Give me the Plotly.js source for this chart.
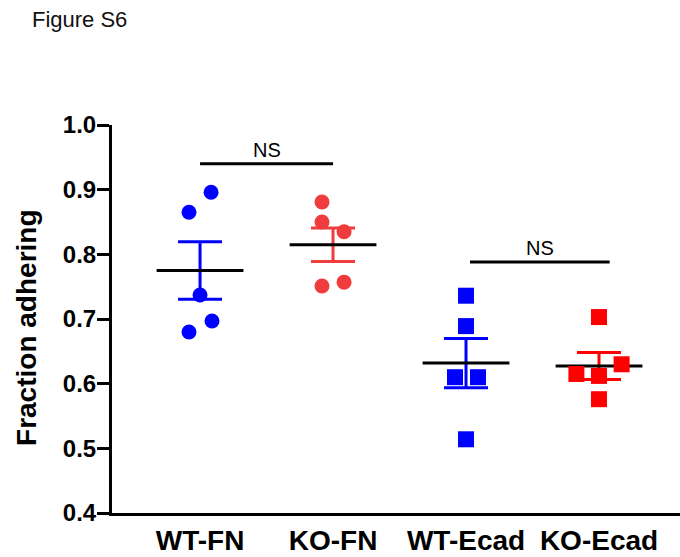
<!DOCTYPE html>
<html>
<head>
<meta charset="utf-8">
<script src="https://cdn.plot.ly/plotly-3.0.1.min.js"></script>
<style>html,body{margin:0;padding:0;background:#fff;}#chart{width:680px;height:557px;}</style>
</head>
<body>
<div id="chart"></div>
<script>
// ---- data ----
var categories = ["WT-FN", "KO-FN", "WT-Ecad", "KO-Ecad"];
var wtFN = [0.896, 0.865, 0.737, 0.697, 0.680];
var koFN = [0.881, 0.850, 0.835, 0.751, 0.757];
var wtEcad = [0.736, 0.689, 0.610, 0.610, 0.514];
var koEcad = [0.703, 0.630, 0.615, 0.612, 0.576];
// horizontal jitter (category units) of each point
var wtFNJitter = [0.083, -0.083, 0, 0.09, -0.083];
var koFNJitter = [-0.083, -0.083, 0.083, -0.083, 0.083];
var wtEcadJitter = [0, 0, -0.083, 0.09, 0];
var koEcadJitter = [0, 0.17, -0.17, 0, 0];
// significance brackets
var nsLeft = [0, 2.03];
var nsRight = [1, 3.08];
var nsLevel = [0.94, 0.788];
var nsText = ["NS", "NS"];
var yTicks = [0.4, 0.5, 0.6, 0.7, 0.8, 0.9, 1.0];

var FONT = "Liberation Sans, Arial, sans-serif";

var groups = [
  {vals: wtFN, jit: wtFNJitter, color: "#0000ff", symbol: "circle", size: 15},
  {vals: koFN, jit: koFNJitter, color: "#f03c3c", symbol: "circle", size: 15},
  {vals: wtEcad, jit: wtEcadJitter, color: "#0000ff", symbol: "square", size: 16},
  {vals: koEcad, jit: koEcadJitter, color: "#ff0000", symbol: "square", size: 16}
];

function mean(a){ return a.reduce(function(s,v){return s+v;},0)/a.length; }
function sem(a){ var m=mean(a); var ss=a.reduce(function(s,v){return s+(v-m)*(v-m);},0); return Math.sqrt(ss/(a.length-1))/Math.sqrt(a.length); }

var traces = [];
// error bars
groups.forEach(function(g, i){
  traces.push({
    x: [i], y: [mean(g.vals)], type: "scatter", mode: "markers",
    marker: {size: 1, color: "rgba(0,0,0,0)"},
    error_y: {type: "data", array: [sem(g.vals)], visible: true, color: g.color, thickness: 3, width: 22},
    showlegend: false, hoverinfo: "skip"
  });
});
// mean lines
groups.forEach(function(g, i){
  traces.push({
    x: [i], y: [mean(g.vals)], type: "scatter", mode: "markers",
    marker: {symbol: "line-ew", size: 62, line: {color: "#000", width: 3}},
    showlegend: false, hoverinfo: "skip"
  });
});
// points
groups.forEach(function(g, i){
  traces.push({
    x: g.jit.map(function(d){ return i + d; }), y: g.vals, type: "scatter", mode: "markers",
    marker: {symbol: g.symbol, size: g.size, color: g.color, line: {width: 0}},
    showlegend: false
  });
});
// NS brackets
var annotations = [];
nsLevel.forEach(function(lv, k){
  traces.push({
    x: [nsLeft[k], nsRight[k]], y: [lv, lv], type: "scatter", mode: "lines",
    line: {color: "#000", width: 3}, showlegend: false, hoverinfo: "skip"
  });
  annotations.push({
    x: (nsLeft[k] + nsRight[k]) / 2, y: lv, xref: "x", yref: "y",
    text: nsText[k], showarrow: false, yanchor: "bottom", yshift: 1,
    font: {family: FONT, size: 20, color: "#000"}
  });
});
// y axis title
annotations.push({
  text: "Fraction adhering", textangle: -90, showarrow: false,
  xref: "paper", yref: "paper", x: -0.1496, y: 0.477, xanchor: "center", yanchor: "middle",
  font: {family: FONT, size: 28, color: "#000", weight: "bold"}
});

var layout = {
  width: 680, height: 557,
  margin: {l: 112, r: 0, t: 125, b: 44},
  paper_bgcolor: "#fff", plot_bgcolor: "#fff",
  title: {
    text: "Figure S6", x: 0.047, xref: "container", xanchor: "left",
    y: 0.966, yref: "container", yanchor: "middle",
    font: {family: FONT, size: 22, color: "#111"}
  },
  xaxis: {
    range: [-0.662, 3.609], tickvals: [0, 1, 2, 3], ticktext: categories,
    showgrid: false, zeroline: false, showline: true, linecolor: "#000", linewidth: 3,
    ticks: "", ticklabelstandoff: 0,
    tickfont: {family: FONT, size: 28, color: "#000", weight: "bold"}
  },
  yaxis: {
    range: [0.4, 1.0], tickvals: yTicks, ticktext: yTicks.map(function(v){return v.toFixed(1);}),
    showgrid: false, zeroline: false, showline: true, linecolor: "#000", linewidth: 3,
    ticks: "outside", ticklen: 12, tickwidth: 3, tickcolor: "#000", ticklabelstandoff: -4,
    tickfont: {family: FONT, size: 24, color: "#000", weight: "bold"}
  },
  annotations: annotations,
  showlegend: false
};

Plotly.newPlot("chart", traces, layout, {displayModeBar: false, staticPlot: true});
</script>
</body>
</html>
